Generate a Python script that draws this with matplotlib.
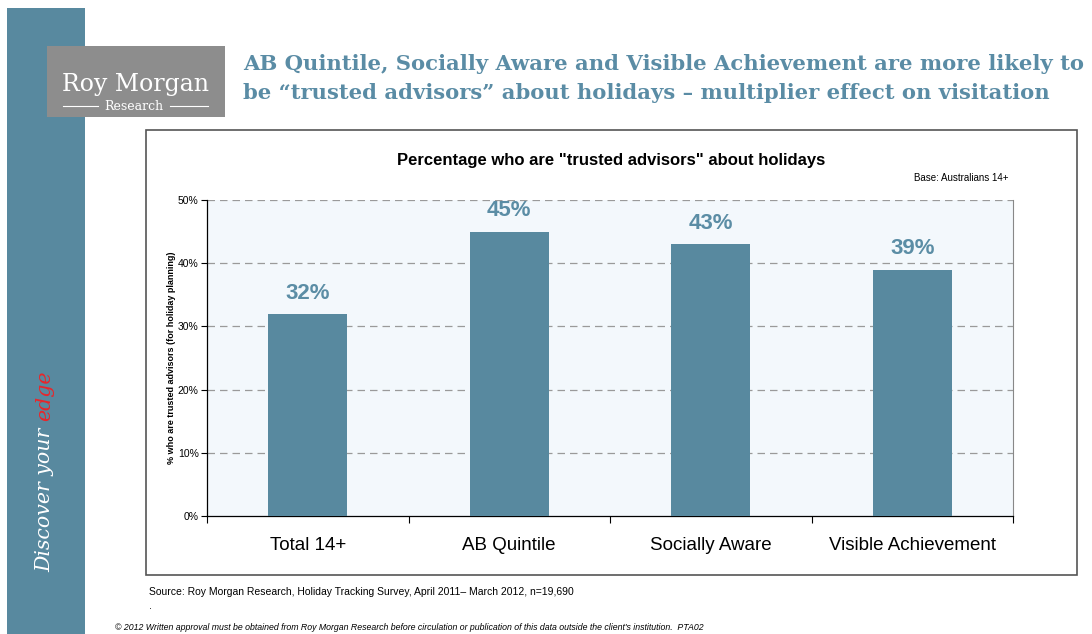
import matplotlib
matplotlib.use("Agg")
import matplotlib.pyplot as plt
from matplotlib.patches import Rectangle
from matplotlib.lines import Line2D

categories = ["Total 14+", "AB Quintile", "Socially Aware", "Visible Achievement"]
values = [32, 45, 43, 39]
yticks = [0, 10, 20, 30, 40, 50]
ytick_labels = ["0%", "10%", "20%", "30%", "40%", "50%"]

W, H = 1092, 634
fig = plt.figure(figsize=(W / 100, H / 100), dpi=100)
fig.patch.set_facecolor("white")

def fx(x):
    return x / W

def fy(y):
    return 1 - y / H

teal = "#58899f"
title_col = "#5a8ca5"

# Left strip
fig.patches.append(Rectangle((fx(7), 0), fx(78), fy(8), transform=fig.transFigure,
                             facecolor=teal, edgecolor="none", zorder=0))
# Logo box
fig.patches.append(Rectangle((fx(47), fy(117)), fx(178), 71 / H, transform=fig.transFigure,
                             facecolor="#8d8d8d", edgecolor="none", zorder=1))
fig.text(fx(136), fy(85), "Roy Morgan", family="DejaVu Serif", fontsize=17, color="white",
         ha="center", va="center", zorder=2)
fig.text(fx(134), fy(106), "Research", family="DejaVu Serif", fontsize=9, color="white",
         ha="center", va="center", zorder=2)
fig.lines.append(Line2D([fx(63), fx(98)], [fy(106), fy(106)], transform=fig.transFigure,
                        color="white", lw=0.8, zorder=2))
fig.lines.append(Line2D([fx(170), fx(208)], [fy(106), fy(106)], transform=fig.transFigure,
                        color="white", lw=0.8, zorder=2))

# Vertical slogan
t1 = fig.text(fx(45), fy(572), "Discover your ", family="DejaVu Serif", style="italic",
              fontsize=14.8, color="white", rotation=90, rotation_mode="anchor",
              ha="left", va="center")
fig.canvas.draw()
bb = t1.get_window_extent()
fig.text(fx(45), bb.y1 / H, "edge", family="DejaVu Serif", style="italic",
         fontsize=14.8, color="#e8262b", rotation=90, rotation_mode="anchor",
         ha="left", va="center")

# Slide title
fig.text(fx(243), fy(64), "AB Quintile, Socially Aware and Visible Achievement are more likely to",
         family="DejaVu Serif", weight="bold", fontsize=15.2, color=title_col, ha="left", va="center")
fig.text(fx(243), fy(93), "be \u201ctrusted advisors\u201d about holidays \u2013 multiplier effect on visitation",
         family="DejaVu Serif", weight="bold", fontsize=15.2, color=title_col, ha="left", va="center")

# Chart box
fig.patches.append(Rectangle((fx(146), fy(575)), fx(931), 445 / H, transform=fig.transFigure,
                             facecolor="white", edgecolor="#555555", lw=1.2, zorder=0.5))

fig.text(fx(611), fy(160), 'Percentage who are "trusted advisors" about holidays',
         fontsize=12, weight="bold", family="Liberation Sans", ha="center", va="center")
fig.text(fx(1008), fy(178), "Base: Australians 14+", fontsize=7, family="Liberation Sans",
         ha="right", va="center")

ax = fig.add_axes([fx(207), fy(516), fx(806), 316 / H])
ax.set_zorder(3)
ax.set_facecolor("#f3f8fc")
x = list(range(len(categories)))
ax.bar(x, values, width=0.39, color=teal, zorder=3)
for xi, v in zip(x, values):
    ax.text(xi, v + 1.6, f"{v}%", ha="center", va="bottom", fontsize=16, weight="bold",
            color="#5b8da5", family="Liberation Sans")

ax.set_xlim(-0.5, len(categories) - 0.5)
ax.set_ylim(0, 50)
ax.set_yticks(yticks)
ax.set_yticklabels(ytick_labels, family="Liberation Sans", fontsize=7.5)
for yv in yticks[1:]:
    ax.axhline(yv, color="#9a9a9a", lw=0.9, ls=(0, (6, 4)), zorder=1)

ax.set_xticks([i - 0.5 for i in range(len(categories) + 1)])
ax.set_xticklabels([])
ax.set_xticks(x, minor=True)
ax.set_xticklabels(categories, minor=True, fontsize=13.5, family="Liberation Sans")
ax.tick_params(axis="x", which="minor", length=0, pad=15)
ax.tick_params(axis="x", which="major", length=5, direction="out", width=0.8)
ax.tick_params(axis="y", length=4, direction="out", width=0.8, pad=2)

ax.spines["top"].set_visible(False)
ax.spines["right"].set_color("#888888")
ax.spines["right"].set_linewidth(0.8)
ax.spines["left"].set_linewidth(0.9)
ax.spines["bottom"].set_linewidth(0.9)

ax.set_ylabel("% who are trusted advisors (for holiday planning)", fontsize=6.5, weight="bold",
              family="Liberation Sans", labelpad=1)

fig.text(fx(149), fy(592), "Source: Roy Morgan Research, Holiday Tracking Survey, April 2011\u2013 March 2012, n=19,690",
         fontsize=7.5, family="Liberation Sans", ha="left", va="center")
fig.text(fx(149), fy(606), ".", fontsize=7.5, family="Liberation Sans", ha="left", va="center")
fig.text(fx(115), fy(628), "\u00a9 2012 Written approval must be obtained from Roy Morgan Research before circulation or publication of this data outside the client's institution.  PTA02",
         fontsize=6.3, style="italic", family="Liberation Sans", ha="left", va="center")

fig.savefig("out.png", dpi=100, facecolor="white")
